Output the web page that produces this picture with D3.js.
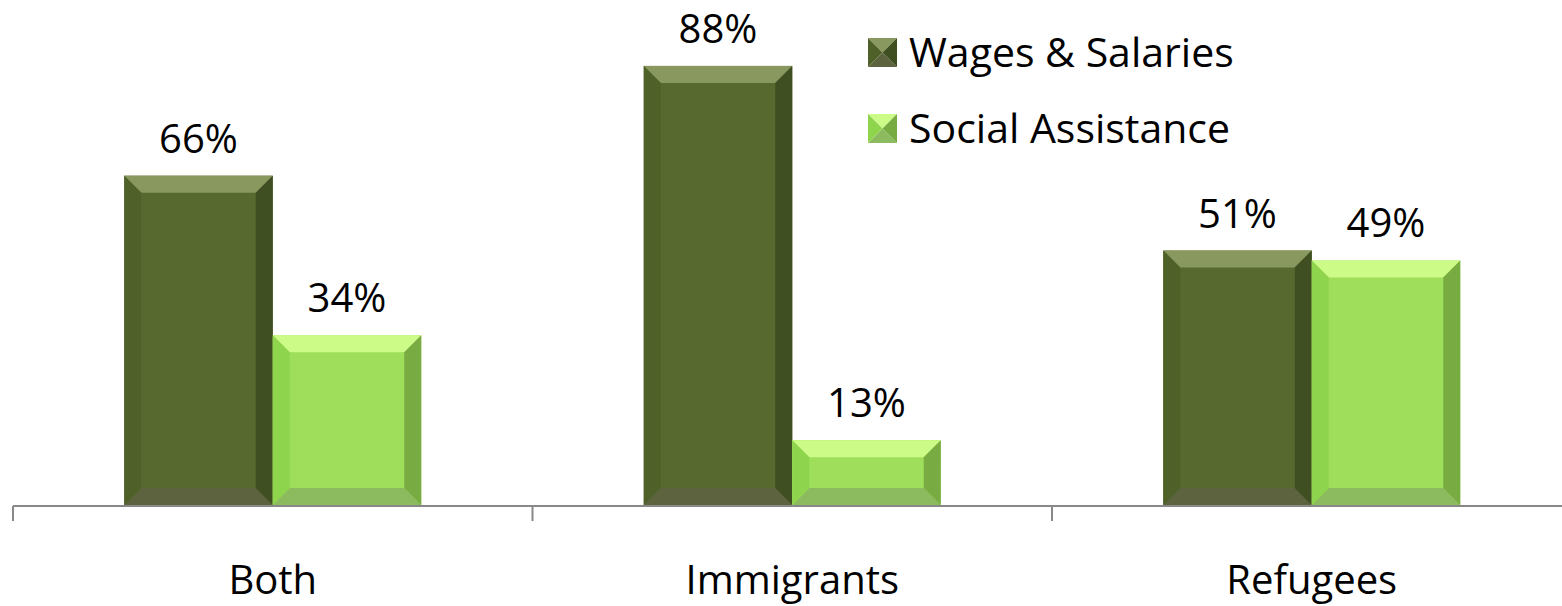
<!DOCTYPE html>
<html>
<head>
<meta charset="utf-8">
<script src="https://cdn.jsdelivr.net/npm/d3@7/dist/d3.min.js"></script>
<style>
  html, body { margin: 0; padding: 0; background: #ffffff; }
  svg { display: block; }
  text { font-family: "Open Sans", "Liberation Sans", sans-serif; fill: #000; }
</style>
</head>
<body>
<svg id="chart" width="1562" height="606"></svg>
<script>
// Income source shares by group
const categories = ["Both", "Immigrants", "Refugees"];
const seriesNames = ["Wages & Salaries", "Social Assistance"];
const wages = [66, 88, 51];
const socialAssistance = [34, 13, 49];
const valueLabels = [["66%", "34%"], ["88%", "13%"], ["51%", "49%"]];

// Bevelled fill palettes: face, top, left, right, bottom
const palettes = [
  { face: "#58692f", top: "#88985e", left: "#4f6129", right: "#3f4f22", bottom: "#5c633e" },
  { face: "#9ede5a", top: "#ccfc87", left: "#8fd44d", right: "#78ab42", bottom: "#8cbb5f" }
];

const width = 1562, height = 606;
const svg = d3.select("#chart");

const baseY = 505;
const x0 = d3.scaleBand().domain(categories).range([13, 1571.5]).paddingInner(0).paddingOuter(0);
const groupW = 297;
const x1 = d3.scaleBand().domain(seriesNames).range([0, groupW]).padding(0);
const y = d3.scaleLinear().domain([0, 100]).range([baseY, baseY - 499]);

const rows = categories.map((c, i) => ({
  cat: c,
  vals: [wages[i], socialAssistance[i]],
  labels: valueLabels[i]
}));

const bevel = 17;

function drawBevelBar(g, xa, xb, ya, yb, pal) {
  const b = Math.min(bevel, (yb - ya) / 2, (xb - xa) / 2);
  const pts = {
    top: [[xa, ya], [xb, ya], [xb - b, ya + b], [xa + b, ya + b]],
    bottom: [[xa, yb], [xb, yb], [xb - b, yb - b], [xa + b, yb - b]],
    left: [[xa, ya], [xa + b, ya + b], [xa + b, yb - b], [xa, yb]],
    right: [[xb, ya], [xb - b, ya + b], [xb - b, yb - b], [xb, yb]]
  };
  g.append("rect").attr("x", xa).attr("y", ya).attr("width", xb - xa).attr("height", yb - ya)
    .attr("fill", pal.face);
  ["top", "bottom", "left", "right"].forEach(k => {
    g.append("polygon").attr("points", pts[k].map(p => p.join(",")).join(" ")).attr("fill", pal[k]);
  });
}

// Bars
const groups = svg.selectAll("g.cat").data(rows).join("g").attr("class", "cat")
  .attr("transform", d => `translate(${x0(d.cat) + (x0.bandwidth() - groupW) / 2},0)`);

groups.each(function (d) {
  const g = d3.select(this);
  d.vals.forEach((v, j) => {
    const xa = x1(seriesNames[j]);
    const xb = xa + x1.bandwidth();
    drawBevelBar(g.append("g"), xa, xb, y(v), baseY, palettes[j]);
    g.append("text")
      .attr("x", xa + x1.bandwidth() / 2)
      .attr("y", y(v) - 23)
      .attr("text-anchor", "middle")
      .attr("font-size", 40)
      .text(d.labels[j]);
  });
});

// Category axis: baseline plus band-edge ticks
const axisG = svg.append("g");
axisG.append("line")
  .attr("x1", x0.range()[0]).attr("x2", width)
  .attr("y1", baseY + 1).attr("y2", baseY + 1)
  .attr("stroke", "#888").attr("stroke-width", 2);
const edges = categories.map(c => x0(c)).concat([x0.range()[1]]);
axisG.selectAll("line.tick").data(edges).join("line").attr("class", "tick")
  .attr("x1", d => d).attr("x2", d => d)
  .attr("y1", baseY + 1).attr("y2", baseY + 16)
  .attr("stroke", "#888").attr("stroke-width", 2);
axisG.selectAll("text.cat").data(categories).join("text").attr("class", "cat")
  .attr("x", d => x0(d) + x0.bandwidth() / 2)
  .attr("y", 594)
  .attr("text-anchor", "middle")
  .attr("font-size", 40)
  .text(d => d);

// Legend with pyramid-bevelled swatches
const legend = svg.append("g").attr("transform", "translate(868,38)");
const sw = 29;
seriesNames.forEach((name, j) => {
  const g = legend.append("g").attr("transform", `translate(0,${j * 76})`);
  const pal = palettes[j];
  const c = [sw / 2, sw / 2];
  const tri = {
    top: [[0, 0], [sw, 0], c],
    bottom: [[0, sw], [sw, sw], c],
    left: [[0, 0], [0, sw], c],
    right: [[sw, 0], [sw, sw], c]
  };
  ["top", "bottom", "left", "right"].forEach(k => {
    g.append("polygon").attr("points", tri[k].map(p => p.join(",")).join(" ")).attr("fill", pal[k]);
  });
  g.append("text")
    .attr("x", 41)
    .attr("y", sw / 2)
    .attr("dy", "0.36em")
    .attr("font-size", 41)
    .text(name);
});
</script>
</body>
</html>
